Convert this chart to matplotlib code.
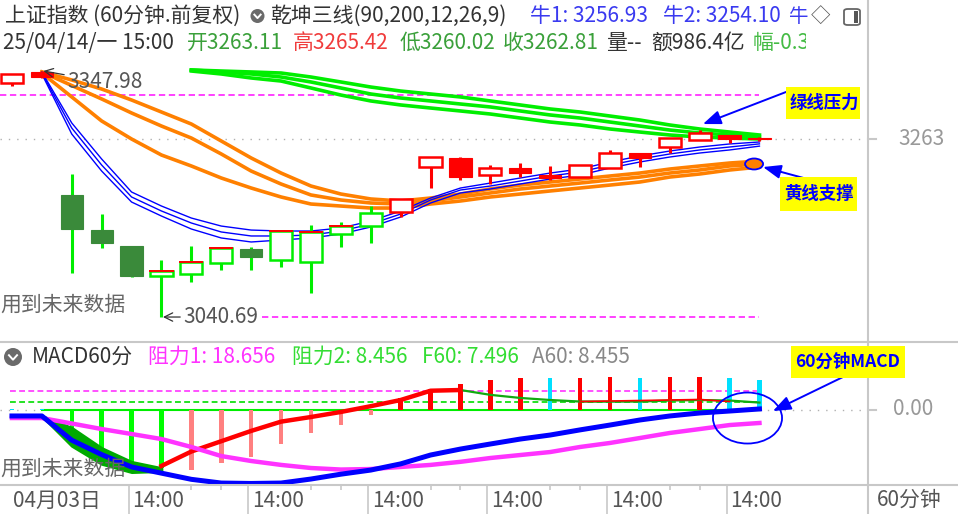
import matplotlib
matplotlib.use('Agg')
import numpy as np
import matplotlib.pyplot as plt
from matplotlib.patches import Rectangle, Ellipse, FancyBboxPatch
from matplotlib.lines import Line2D
from matplotlib.transforms import Bbox, TransformedBbox

plt.rcParams['font.family'] = ['Noto Sans CJK SC', 'DejaVu Sans']

W, H = 958, 514

# ---- 60 minute K line ----
k_open = [3332.9, 3346.7, 3193.1, 3149.3, 3129.4, 3091.9, 3094.4, 3108.1, 3125.6, 3111.9,
          3109.4, 3144.4, 3154.3, 3171.8, 3228.0, 3239.3, 3218.0, 3226.8, 3218.0, 3215.5,
          3226.8, 3245.5, 3253.0, 3261.8, 3268.0, 3263.11]
k_high = [3344.2, 3347.98, 3219.3, 3169.3, 3130.0, 3111.9, 3129.4, 3127.5, 3128.1, 3148.5,
          3155.6, 3159.3, 3179.3, 3188.5, 3241.0, 3240.0, 3230.5, 3233.0, 3229.3, 3230.5,
          3249.3, 3246.0, 3264.5, 3274.2, 3268.5, 3265.42]
k_low = [3329.2, 3339.0, 3095.6, 3126.9, 3090.7, 3040.69, 3084.4, 3099.4, 3099.4, 3103.1,
         3070.7, 3128.1, 3133.1, 3165.6, 3201.8, 3211.8, 3206.8, 3215.5, 3211.8, 3215.5,
         3226.5, 3228.0, 3245.5, 3261.5, 3258.0, 3260.02]
k_close = [3344.2, 3340.4, 3150.6, 3133.1, 3091.9, 3098.1, 3109.4, 3126.9, 3115.6, 3148.1,
           3146.9, 3154.3, 3170.6, 3188.1, 3240.5, 3215.5, 3226.8, 3220.5, 3214.3, 3230.5,
           3245.5, 3239.3, 3264.2, 3270.5, 3263.0, 3262.81]
# rh red hollow, rf red filled, gf green filled, gh green hollow, gt green hollow red top
k_style = ['rh', 'rf', 'gf', 'gf', 'gf', 'gt', 'gt', 'gt', 'gf', 'gt', 'gt', 'gt', 'gh',
           'rh', 'rh', 'rf', 'rh', 'rf', 'rf', 'rh', 'rh', 'rf', 'rh', 'rh', 'rf', 'rf']

# ---- 乾坤三线 (from bar 1 / bar 6) ----
blue_1 = [3346.7, 3283.0, 3238.0, 3196.8, 3179.3, 3164.3, 3154.3, 3149.3, 3148.1, 3148.1,
          3151.9, 3160.6, 3173.1, 3189.3, 3201.8, 3208.0, 3214.3, 3220.5, 3225.5, 3234.3,
          3241.8, 3248.0, 3253.0, 3256.8, 3259.3]
blue_2 = [3345.4, 3276.7, 3230.5, 3190.6, 3173.1, 3158.1, 3146.9, 3141.9, 3141.9, 3143.1,
          3148.1, 3156.8, 3169.3, 3186.8, 3199.3, 3204.3, 3210.5, 3216.8, 3221.8, 3230.5,
          3238.0, 3244.3, 3249.3, 3253.0, 3256.93]
blue_3 = [3344.2, 3269.2, 3223.0, 3184.3, 3166.8, 3150.6, 3139.4, 3134.4, 3136.9, 3139.4,
          3144.4, 3153.1, 3165.6, 3183.1, 3195.6, 3200.6, 3206.8, 3213.0, 3218.0, 3226.8,
          3234.3, 3240.5, 3245.5, 3249.3, 3254.10]
orange_1 = [3346.7, 3336.7, 3325.4, 3311.7, 3296.7, 3281.7, 3260.5, 3239.3, 3220.5, 3204.3,
            3194.3, 3188.1, 3185.6, 3189.3, 3194.3, 3200.6, 3205.5, 3209.3, 3213.0, 3216.8,
            3220.5, 3225.5, 3229.3, 3233.0, 3235.5]
orange_2 = [3346.7, 3329.8, 3313.0, 3295.5, 3279.2, 3264.2, 3244.3, 3223.0, 3206.8, 3193.1,
            3186.8, 3183.1, 3181.8, 3185.6, 3190.6, 3195.6, 3200.6, 3204.3, 3208.0, 3211.8,
            3215.5, 3220.5, 3224.3, 3229.3, 3231.8]
orange_3 = [3345.4, 3315.5, 3285.5, 3263.0, 3243.0, 3229.3, 3214.3, 3201.8, 3190.6, 3181.8,
            3179.3, 3176.8, 3176.8, 3181.8, 3185.6, 3190.6, 3194.3, 3198.1, 3201.8, 3205.5,
            3209.3, 3215.5, 3219.3, 3224.3, 3228.0]
green_1 = [3349.2, 3347.9, 3346.7, 3345.4, 3340.4, 3334.2, 3327.9, 3322.9, 3319.2, 3315.5,
           3310.5, 3305.5, 3300.5, 3296.7, 3291.7, 3286.7, 3280.5, 3275.5, 3271.7, 3268.0]
green_2 = [3349.2, 3346.7, 3344.2, 3340.4, 3334.2, 3326.7, 3319.2, 3314.2, 3310.5, 3306.7,
           3303.0, 3298.0, 3293.0, 3289.2, 3284.2, 3279.2, 3274.2, 3270.5, 3268.0, 3265.5]
green_3 = [3347.9, 3344.2, 3339.2, 3335.4, 3326.7, 3317.9, 3310.5, 3305.5, 3301.7, 3298.0,
           3294.2, 3289.2, 3284.2, 3280.5, 3275.5, 3271.7, 3268.0, 3265.5, 3264.2, 3263.0]
level_hi = 3318.0

# ---- MACD60分 ----
macd_blue = [-5.5, -5.5, -29, -43, -55, -61, -67, -70.6, -71, -70.6, -66.7, -62, -58, -52,
             -43.4, -37.6, -32.7, -27.9, -24, -19, -14.3, -9.4, -5.5, -2.6, -0.7, 1.3]
macd_pink = [-7.5, -7.5, -12.8, -18.2, -23, -27.9, -35.6, -44.4, -49.2, -53, -56, -57.5, -57,
             -55, -53, -50, -46.3, -43.4, -40.5, -35.6, -31.7, -26.9, -22, -18.2, -14.3, -12.3]
macd_hist = [0.8, 0.8, -34, -43, -58, -56, -58, -51, -45, -33, -22, -14.5, -4.5, 12, 21, 26,
             29, 31, 31, 31, 32, 31, 32, 32, 31, 29]
hist_color = ['#00e0ff'] * 2 + ['#00ff00'] * 4 + ['#ff8080'] * 7 + ['#ff0000'] * 5 + \
             ['#00e0ff', '#ff0000', '#ff0000', '#00e0ff', '#ff0000', '#ff0000', '#00e0ff', '#00e0ff']
band_top = [-5.5, -17, -36.6, -50, -56]          # bars 1..5
band_bot = [-5.5, -34.5, -52, -60, -59]
trend_up = [-54, -40, -30, -20, -11, -6.5, -1.6, 4, 10, 19, 19.7]   # bars 5..15
trend_dn = [19.7, 15, 12, 10, 8.5, 8.4, 8.5, 9.5, 10, 9.5, 7.496]   # bars 15..25
a60_line = [8.5, 9, 9.5, 10, 10.5, 8.455]                          # bars 19..24
zuli1, zuli2 = 18.656, 8.456

tick_bars = [4, 8, 12, 16, 20, 24]
label_bars = [0, 4, 8, 12, 16, 20, 24]
tick_labels = ['04月03日', '14:00', '14:00', '14:00', '14:00', '14:00', '14:00']

RED, LIME, DKG = '#ff0000', '#00ee00', '#3a8a3a'
ORANGE, BLUE, MAG = '#ff8000', '#0000ff', '#ff33ff'
GRID = '#c8c8c8'


def fbox(x0, y0, x1, y1):
    return [x0 / W, 1 - y1 / H, (x1 - x0) / W, (y1 - y0) / H]


def fx(x):
    return x / W


def fy(y):
    return 1 - y / H


fig = plt.figure(figsize=(W / 100, H / 100), dpi=100)
fig.patch.set_facecolor('white')

X0, X1 = -0.40, 28.63
ax = fig.add_axes(fbox(0, 55, 868, 338))
ax.set_xlim(X0, X1)
ax.set_ylim(3014.5, 3367.9)
ax.axis('off')
am = fig.add_axes(fbox(0, 342, 868, 485))
am.set_xlim(X0, X1)
am.set_ylim(-72.5, 66.3)
am.axis('off')
axx = fig.add_axes(fbox(0, 485, 868, 514))
axx.set_xlim(X0, X1)
axx.set_ylim(0, 1)
axx.axis('off')

n = len(k_close)
xs = np.arange(n)
last = k_close[-1]

# reference lines
ax.plot([X0, X1], [last, last], color='#b0b0b0', lw=1.0, ls=(0, (1, 5)), zorder=1)
ax.plot([X0, n - 1], [level_hi, level_hi], color=MAG, lw=1.3, ls=(0, (3.5, 2)), zorder=1)
ax.plot([8.36, n - 1], [min(k_low), min(k_low)], color=MAG, lw=1.3, ls=(0, (3.5, 2)), zorder=1)

# bands
xb = np.arange(1, n)
xg = np.arange(6, n)
for arr in (green_1, green_2, green_3):
    ax.plot(xg, arr, color=LIME, lw=2.6, zorder=3)
for arr in (orange_1, orange_2, orange_3):
    ax.plot(xb, arr, color=ORANGE, lw=2.6, zorder=3)
for arr in (blue_1, blue_2, blue_3):
    ax.plot(xb, arr, color=BLUE, lw=1.0, zorder=3)

# candles
bw = 0.74
for i in range(n):
    o, h, l, c, st = k_open[i], k_high[i], k_low[i], k_close[i], k_style[i]
    top, bot = max(o, c), min(o, c)
    if top - bot < 2.0:
        top = bot + 2.0
    if st in ('rh', 'gh', 'gt'):
        ec = RED if st == 'rh' else LIME
        ax.vlines(i, l, h, color=ec, lw=2.2, zorder=4)
        ax.add_patch(Rectangle((i - bw / 2, bot), bw, top - bot, fc='white', ec=ec,
                               lw=1.8, zorder=5))
        if st == 'gt':
            ax.plot([i - bw / 2, i + bw / 2], [top, top], color=RED, lw=1.4, zorder=6)
    else:
        body = RED if st == 'rf' else DKG
        wick = RED if st == 'rf' else LIME
        ax.vlines(i, l, h, color=wick, lw=2.2, zorder=4)
        ax.add_patch(Rectangle((i - bw / 2, bot), bw, top - bot, fc=body, ec=body,
                               lw=0.8, zorder=5))

# high / low labels
i_hi = int(np.argmax(k_high))
i_lo = int(np.argmin(k_low))
ax.annotate(f'{k_high[i_hi]:.2f}', xy=(i_hi + 0.05, k_high[i_hi]), xytext=(1.84, 3334.2),
            fontsize=15, color='#555555', va='center', ha='left', zorder=7,
            arrowprops=dict(arrowstyle='->', color='#333333', lw=0.9, shrinkA=0, shrinkB=0))
ax.annotate(f'{k_low[i_lo]:.2f}', xy=(i_lo + 0.05, k_low[i_lo]), xytext=(5.72, k_low[i_lo]),
            fontsize=15, color='#555555', va='center', ha='left', zorder=7,
            arrowprops=dict(arrowstyle='->', color='#333333', lw=0.9, shrinkA=0, shrinkB=0))

# marker on yellow line end
ax.add_patch(Ellipse((n - 1.18, orange_2[-1]), 18 / 29.9, 11 / 0.8007, fc=ORANGE,
                     ec=BLUE, lw=1.3, zorder=8))

# ---- MACD panel ----
am.plot([X0, 0.9], [0, 0], color='#b0b0b0', lw=1.0, ls=(0, (1, 5)))
am.plot([1, n - 1], [0, 0], color='#00ee00', lw=1.5, zorder=2)
am.plot([n - 1, X1], [0, 0], color='#b0b0b0', lw=1.0, ls=(0, (1, 5)))
am.plot([-0.07, n - 1], [zuli1, zuli1], color=MAG, lw=1.2, ls=(0, (3.5, 2)), zorder=1)
am.plot([-0.07, n - 1], [zuli2, zuli2], color='#00dd00', lw=1.2, ls=(0, (3.5, 2)), zorder=1)
am.bar(xs, macd_hist, width=0.15, color=hist_color, zorder=2)
am.fill_between(np.arange(1, 6), band_bot, band_top, color='#00aa00', lw=2, ec='#00aa00',
                zorder=3)
am.plot(np.arange(15, n), trend_dn, color='#11aa11', lw=1.6, zorder=3)
am.plot(np.arange(19, 25), a60_line, color=RED, lw=1.2, zorder=3)
am.plot(np.arange(5, 16), trend_up, color=RED, lw=3.2, zorder=4)
am.plot(xs, macd_pink, color=MAG, lw=3.2, zorder=5)
am.plot(xs, macd_blue, color=BLUE, lw=3.6, zorder=6)
am.add_patch(Ellipse((24.6, -7.5), 2.31, 49.5, fc='none', ec=BLUE, lw=1.3, zorder=8))

# ---- x axis strip ----
axx.vlines(np.array(tick_bars) - 0.1, 0, 1, color=GRID, lw=1.2)
small = [b for b in range(n) if b % 4 in (2, 3) and b > 4]
axx.vlines(small, 0.83, 1, color=GRID, lw=1.2)
for b, lab in zip(label_bars, tick_labels):
    axx.text(b + 0.03, 0.45, lab, fontsize=15, color='#555555', va='center', ha='left')

# ---- separators ----
for (xa, ya, xb_, yb_) in [(868, 0, 868, 514), (0, 342, 958, 342), (0, 485, 958, 485)]:
    fig.add_artist(Line2D([fx(xa), fx(xb_)], [fy(ya), fy(yb_)], color=GRID, lw=1.5,
                          transform=fig.transFigure, zorder=1))
for yy in (139, 410):
    fig.add_artist(Line2D([fx(868), fx(876)], [fy(yy), fy(yy)], color=GRID, lw=1.5,
                          transform=fig.transFigure, zorder=1))


def htext(x, y, s, color, size=15, clip=None, **kw):
    t = fig.text(fx(x), fy(y), s, color=color, fontsize=size, va='center', ha='left', **kw)
    if clip is not None:
        t.set_clip_box(TransformedBbox(Bbox.from_extents(0, 0, fx(clip), 1), fig.transFigure))
        t.set_clip_on(True)
    return t


def icon(xc, yc, r):
    fig.add_artist(Ellipse((fx(xc), fy(yc)), 2 * r / W, 2 * r / H, fc='#6a6a6a', ec='none',
                           transform=fig.transFigure, zorder=5))
    fig.add_artist(Line2D([fx(xc - r * 0.45), fx(xc), fx(xc + r * 0.45)],
                          [fy(yc - r * 0.2), fy(yc + r * 0.3), fy(yc - r * 0.2)],
                          color='white', lw=1.4, transform=fig.transFigure, zorder=6))


DARK = '#333333'
GRN = '#3aa03a'
VIO = '#3a3af0'
htext(5, 16, '上证指数 (60分钟.前复权)', DARK)
icon(257.5, 16, 7)
htext(270, 16, '乾坤三线(90,200,12,26,9)', DARK)
htext(530, 16, f'牛1: {blue_2[-1]:.2f}', VIO)
htext(663, 16, f'牛2: {blue_3[-1]:.2f}', VIO)
htext(789, 16, '牛', VIO, size=14)
htext(811, 16, '◇', '#555555', size=14)
fig.add_artist(FancyBboxPatch((fx(844), fy(25)), 16 / W, 16 / H, boxstyle='round,pad=0,rounding_size=0.004',
                              fc='white', ec='#666666', lw=1.3, transform=fig.transFigure))
fig.add_artist(Rectangle((fx(854), fy(23)), 4 / W, 12 / H, fc='#555555', ec='none',
                         transform=fig.transFigure))

htext(3, 43, '25/04/14/一 15:00', DARK)
htext(187, 43, f'开{k_open[-1]:.2f}', GRN)
htext(293, 43, f'高{k_high[-1]:.2f}', '#f03c3c')
htext(400, 43, f'低{k_low[-1]:.2f}', GRN)
htext(503, 43, f'收{k_close[-1]:.2f}', GRN)
htext(606, 43, '量--', DARK)
htext(651, 43, '额986.4亿', DARK)
htext(753, 43, '幅-0.33%', '#44bb44', clip=806)

htext(0, 305, '用到未来数据', '#666666')
htext(0, 469, '用到未来数据', '#666666', zorder=0)

icon(13, 357, 9)
htext(32, 357, 'MACD60分', DARK)
htext(148, 357, f'阻力1: {zuli1:.3f}', '#ff33ff')
htext(292, 357, f'阻力2: {zuli2:.3f}', '#33dd33')
htext(422, 357, f'F60: {trend_dn[-1]:.3f}', '#33dd33')
htext(532, 357, f'A60: {a60_line[-1]:.3f}', '#888888')

htext(898, 139, f'{last:.0f}', '#999999')
htext(893, 409, '0.00', '#999999')
htext(877, 500, '60分钟', '#555555')

# ---- yellow notes ----
for (x0, y0, x1, y1, s, sz) in [(786, 87, 860, 119, '绿线压力', 12.5),
                                 (780, 177, 857, 211, '黄线支撑', 12.5),
                                 (791, 346, 905, 378, '60分钟MACD', 12.5)]:
    fig.add_artist(Rectangle((fx(x0), fy(y1)), (x1 - x0) / W, (y1 - y0) / H, fc='#ffff00',
                             ec='none', transform=fig.transFigure, zorder=10))
    fig.text(fx(x0 + 4), fy((y0 + y1) / 2), s, color='#0000ff', fontsize=sz, fontweight='bold',
             va='center', ha='left', zorder=11)

arrow = dict(arrowstyle='-|>,head_length=0.9,head_width=0.35', color=BLUE, lw=1.4,
             mutation_scale=12, shrinkA=0, shrinkB=0)
ax.annotate('', xy=(23.11, 3281.7), xytext=(fx(786), fy(92)), textcoords='figure fraction',
            arrowprops=arrow, annotation_clip=False, zorder=9)
ax.annotate('', xy=(25.12, 3228.0), xytext=(fx(811), fy(180)), textcoords='figure fraction',
            arrowprops=arrow, annotation_clip=False, zorder=9)
am.annotate('', xy=(25.45, -0.7), xytext=(fx(843), fy(377)), textcoords='figure fraction',
            arrowprops=arrow, annotation_clip=False, zorder=9)

fig.savefig('out.png', dpi=100, facecolor='white')
